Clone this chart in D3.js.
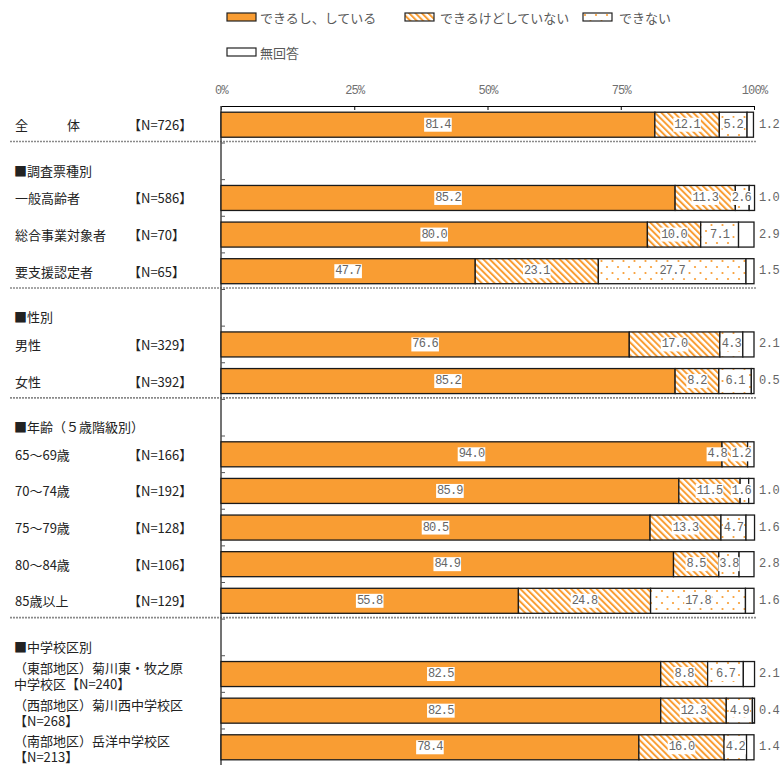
<!DOCTYPE html>
<html><head><meta charset="utf-8">
<script src="https://cdn.jsdelivr.net/npm/d3@7"></script>
<style>body{margin:0;background:#fff} svg{display:block}</style>
</head><body>
<svg id="chart" width="781" height="765"></svg>
<script>
// ---------- data ----------
const seriesNames = ["できるし、している", "できるけどしていない", "できない", "無回答"];
const categories = ["全　　　体", "■調査票種別", "一般高齢者", "総合事業対象者", "要支援認定者",
  "■性別", "男性", "女性", "■年齢（５歳階級別）", "65～69歳", "70～74歳", "75～79歳", "80～84歳", "85歳以上",
  "■中学校区別", "（東部地区）菊川東・牧之原中学校区", "（西部地区）菊川西中学校区", "（南部地区）岳洋中学校区"];
const nValues   = [726, null, 586, 70, 65, null, 329, 392, null, 166, 192, 128, 106, 129, null, 240, 268, 213];
const doing     = [81.4, null, 85.2, 80.0, 47.7, null, 76.6, 85.2, null, 94.0, 85.9, 80.5, 84.9, 55.8, null, 82.5, 82.5, 78.4];
const canButNot = [12.1, null, 11.3, 10.0, 23.1, null, 17.0, 8.2, null, 4.8, 11.5, 13.3, 8.5, 24.8, null, 8.8, 12.3, 16.0];
const cannot    = [5.2, null, 2.6, 7.1, 27.7, null, 4.3, 6.1, null, 1.2, 1.6, 4.7, 3.8, 17.8, null, 6.7, 4.9, 4.2];
const noAnswer  = [1.2, null, 1.0, 2.9, 1.5, null, 2.1, 0.5, null, 0.0, 1.0, 1.6, 2.8, 1.6, null, 2.1, 0.4, 1.4];
const xTicks = [0, 25, 50, 75, 100];
const separatorsAfter = [0, 4, 7, 13];

// ---------- layout ----------
const ORANGE = "#F99D33";
const svg = d3.select("#chart");
const defs = svg.append("defs");
const hatch = defs.append("pattern").attr("id", "hatch").attr("patternUnits", "userSpaceOnUse")
  .attr("width", 4.5).attr("height", 4.5).attr("patternTransform", "rotate(-45)");
hatch.append("rect").attr("width", 4.5).attr("height", 4.5).attr("fill", "#fff");
hatch.append("rect").attr("x", 0).attr("y", 0).attr("width", 2).attr("height", 4.5).attr("fill", ORANGE);
const dots = defs.append("pattern").attr("id", "dots").attr("patternUnits", "userSpaceOnUse")
  .attr("width", 11).attr("height", 12);
dots.append("rect").attr("width", 11).attr("height", 12).attr("fill", "#fff");
dots.append("circle").attr("cx", 2).attr("cy", 3).attr("r", 1.1).attr("fill", ORANGE);
dots.append("circle").attr("cx", 7.5).attr("cy", 9).attr("r", 1.1).attr("fill", ORANGE);

const fills = [ORANGE, "url(#hatch)", "url(#dots)", "#fff"];

const x = d3.scaleLinear().domain([0, 100]).range([221, 754]);
const pad = 0.317;
const y = d3.scaleBand().domain(d3.range(categories.length)).range([106.4, 765.6])
  .paddingInner(pad).paddingOuter(pad / 2);

const rows = categories.map((c, i) => ({
  i, name: c, n: nValues[i],
  vals: nValues[i] == null ? null : [doing[i], canButNot[i], cannot[i], noAnswer[i]]
}));

// separators
const step = y.step();
separatorsAfter.forEach(k => {
  const yy = y(k) - step * pad / 2 + step - 1.5;
  svg.append("line").attr("x1", 10).attr("x2", 757).attr("y1", yy).attr("y2", yy)
    .attr("stroke", "#8a8a8a").attr("stroke-width", 1.6).attr("stroke-dasharray", "2 1");
});

// top axis
const axisTop = svg.append("g").attr("transform", "translate(0,106)")
  .call(d3.axisTop(x).tickValues(xTicks).tickSize(-4).tickPadding(0).tickFormat(d => d + "%"));
axisTop.select(".domain").attr("stroke", "#000").attr("stroke-width", 1);
axisTop.selectAll(".tick line").attr("stroke", "#000");
axisTop.selectAll(".tick text").attr("y", -12).attr("fill", "#707070")
  .attr("font-family", "Liberation Mono, DejaVu Sans Mono, monospace").attr("font-size", 12)
  .attr("letter-spacing", -0.8);

// left axis
svg.append("line").attr("x1", 221).attr("x2", 221).attr("y1", 106).attr("y2", 765)
  .attr("stroke", "#444").attr("stroke-width", 1.5);
d3.range(1, categories.length).forEach(k => {
  const yy = y(k) - step * pad / 2;
  svg.append("line").attr("x1", 221).attr("x2", 225).attr("y1", yy).attr("y2", yy)
    .attr("stroke", "#555").attr("stroke-width", 1);
});

// bars
const dataRows = rows.filter(r => r.vals);
const stackG = svg.append("g");
dataRows.forEach(r => {
  let acc = 0;
  const segs = r.vals.map((v, k) => { const s = {k, v, x0: acc, x1: acc + v}; acc += v; return s; });
  r.segs = segs;
  stackG.selectAll(null).data(segs.filter(s => s.v > 0)).join("rect")
    .attr("x", s => x(s.x0)).attr("width", s => x(s.x1) - x(s.x0))
    .attr("y", y(r.i)).attr("height", y.bandwidth())
    .attr("fill", s => fills[s.k]).attr("stroke", "#1a1a1a").attr("stroke-width", 1.3);
});

// value labels
const fmt = d3.format(".1f");
const LBL_FONT = "Liberation Mono, DejaVu Sans Mono, monospace";
const charW = 6.4;
const lblG = svg.append("g");
dataRows.forEach(r => {
  const cy = y(r.i) + y.bandwidth() / 2;
  const inside = r.segs.slice(0, 3).filter(s => s.v > 0).map(s => {
    const t = fmt(s.v); return {t, w: t.length * charW + 2, c: x((s.x0 + s.x1) / 2)};
  });
  const end = x(100);
  for (let j = inside.length - 1; j >= 0; j--) {
    const lim = j === inside.length - 1 ? end - 2 - inside[j].w / 2
      : inside[j + 1].c - inside[j + 1].w / 2 - inside[j].w / 2 - 3;
    inside[j].c = Math.min(inside[j].c, lim);
  }
  inside.forEach(l => {
    lblG.append("rect").attr("x", l.c - l.w / 2).attr("y", cy - 7).attr("width", l.w).attr("height", 14).attr("fill", "#fff");
    lblG.append("text").attr("x", l.c).attr("y", cy).attr("text-anchor", "middle").attr("dominant-baseline", "central")
      .attr("font-family", LBL_FONT).attr("font-size", 12).attr("letter-spacing", -0.8).attr("fill", "#666").text(l.t);
  });
  const na = r.segs[3];
  if (na.v > 0) {
    lblG.append("text").attr("x", 759).attr("y", cy).attr("dominant-baseline", "central")
      .attr("font-family", LBL_FONT).attr("font-size", 12).attr("letter-spacing", -0.4).attr("fill", "#666").text(fmt(na.v));
  }
});

// category labels
const CJK = "Noto Sans CJK JP, sans-serif";
const catG = svg.append("g").attr("font-family", CJK).attr("font-size", 13).attr("fill", "#222");
rows.forEach(r => {
  const cy = y(r.i) + y.bandwidth() / 2;
  if (!r.vals) {
    catG.append("text").attr("x", 14).attr("y", cy + 9).attr("dominant-baseline", "central").text(r.name);
    return;
  }
  const nl = "【N=" + r.n + "】";
  if (r.name.length > 10) {
    const l1 = r.name.slice(0, 13), l2 = r.name.slice(13) + nl;
    const t = catG.append("text").attr("x", 14).attr("y", cy - 7).attr("dominant-baseline", "central");
    t.append("tspan").attr("x", 14).text(l1);
    t.append("tspan").attr("x", 14).attr("dy", 16).text(l2);
  } else {
    catG.append("text").attr("x", 15).attr("y", cy).attr("dominant-baseline", "central").text(r.name);
    catG.append("text").attr("x", 128).attr("y", cy).attr("dominant-baseline", "central").text(nl);
  }
});

// legend
const legendPos = [[227, 17, 260], [405, 17, 440], [583, 17, 619], [227, 52, 260]];
const lg = svg.append("g");
seriesNames.forEach((s, k) => {
  const [sx, sy, tx] = legendPos[k];
  lg.append("rect").attr("x", sx).attr("y", sy - 4).attr("width", 29).attr("height", 8)
    .attr("fill", fills[k]).attr("stroke", "#222").attr("stroke-width", 1.2);
  lg.append("text").attr("x", tx).attr("y", sy).attr("dominant-baseline", "central")
    .attr("font-family", CJK).attr("font-size", 13).attr("fill", "#595959").text(s);
});
</script>
</body></html>
